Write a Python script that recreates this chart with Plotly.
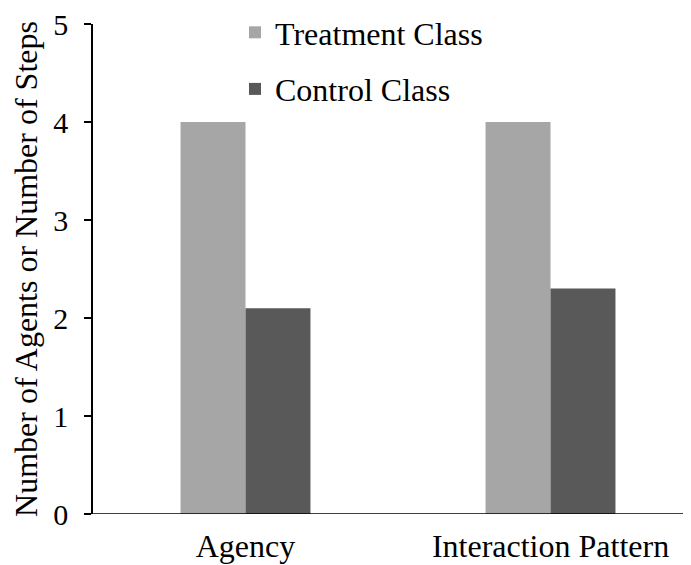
import plotly.graph_objects as go

categories = ["Agency", "Interaction Pattern"]
treatment = [4.0, 4.0]
control = [2.1, 2.3]
series_names = ["Treatment Class", "Control Class"]
y_ticks = [0, 1, 2, 3, 4, 5]

FONT = "Liberation Serif"

fig = go.Figure()
fig.add_trace(go.Bar(x=categories, y=treatment, name=series_names[0],
                     marker=dict(color="#a6a6a6", line=dict(width=0)),
                     legendgroup="a"))
fig.add_trace(go.Bar(x=categories, y=control, name=series_names[1],
                     marker=dict(color="#595959", line=dict(width=0)),
                     legendgroup="b"))

# page body has an 8px margin; compensate
OFF = 8
W, H = 691, 565
ml, mr, mt, mb = 93 - OFF, OFF, 24 - OFF, 51 + OFF
pw = W - ml - mr
ph = H - mt - mb

fig.update_layout(
    width=W, height=H,
    margin=dict(l=ml, r=mr, t=mt, b=mb, pad=0, autoexpand=False),
    paper_bgcolor="white", plot_bgcolor="white",
    font=dict(family=FONT, size=32, color="black"),
    barmode="group", bargap=0.574, bargroupgap=0,
    showlegend=True,
    legend=dict(x=(235 - OFF - ml) / pw, xanchor="left", y=1.0 + 19 / ph, yanchor="top",
                traceorder="grouped", tracegroupgap=12,
                font=dict(family=FONT, size=32, color="black"),
                bgcolor="rgba(0,0,0,0)", itemwidth=30),
    xaxis=dict(range=[-0.5, -0.5 + pw / 305.0], showline=False, ticks="",
               showgrid=False, zeroline=False, automargin=False,
               ticklabelstandoff=10, ticklabeloverflow="allow",
               tickfont=dict(family=FONT, size=32, color="black")),
    yaxis=dict(range=[0, 5], tickvals=y_ticks, showgrid=False, zeroline=False,
               automargin=False, ticklabeloverflow="allow",
               showline=True, linecolor="black", linewidth=1.5,
               ticks="outside", ticklen=7, tickcolor="black", tickwidth=1.5,
               tickfont=dict(family=FONT, size=30, color="black"),
               ticklabelstandoff=10,
               title=dict(text="Number of Agents or Number of Steps",
                          font=dict(family=FONT, size=32, color="black"),
                          standoff=6)),
    shapes=[dict(type="line", xref="paper", yref="y", x0=-7 / pw, x1=1.0,
                 y0=0, y1=0, line=dict(color="black", width=1.5))],
)

fig.write_html("out.html")
